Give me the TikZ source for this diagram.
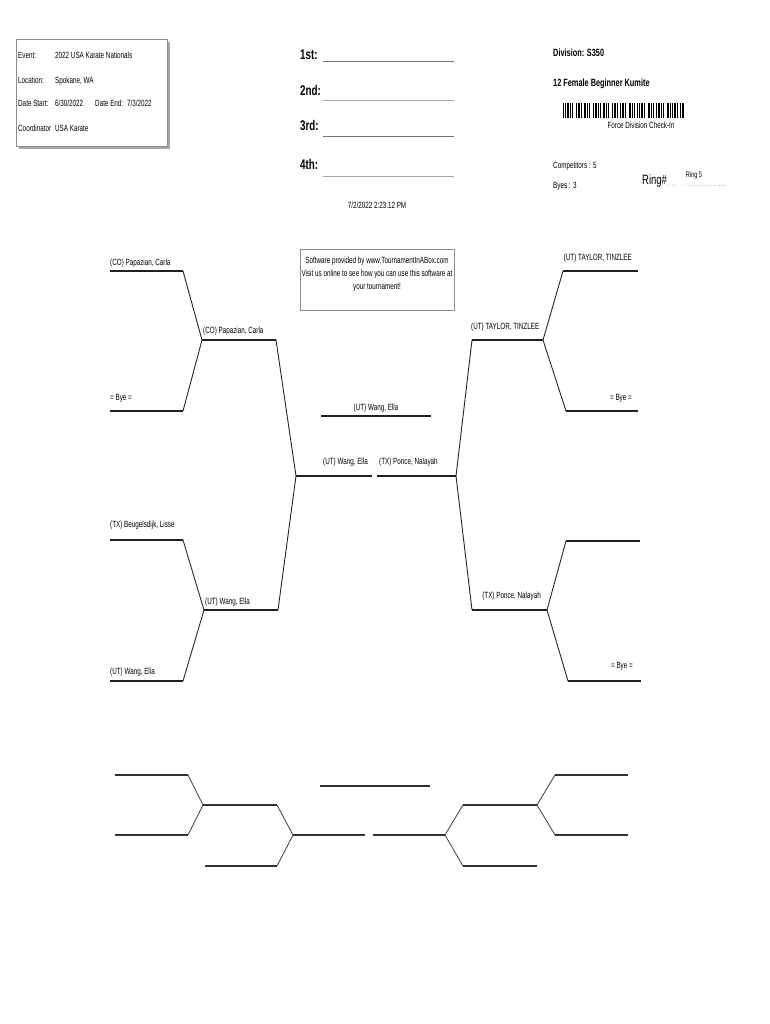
\documentclass[tikz,border=0pt]{standalone}
\usepackage{fontspec}
\setmainfont{Liberation Sans}[FakeStretch=0.7]
\begin{document}
\begin{tikzpicture}[x=1pt,y=-1pt,
  lbl/.style={font=\fontsize{9}{10}\selectfont, inner sep=0pt},
  info/.style={font=\fontsize{9}{10}\selectfont, inner sep=0pt, anchor=base west},
  place/.style={font=\bfseries\fontsize{14}{16}\selectfont, inner sep=0pt, anchor=base west},
  head/.style={font=\bfseries\fontsize{10.5}{12}\selectfont, inner sep=0pt, anchor=base west},
  hl/.style={line width=1.7pt, draw=black!88},
  dg/.style={line width=0.9pt, draw=black!85},
  bhl/.style={line width=1.3pt, draw=black!80},
  bdg/.style={line width=0.8pt, draw=black!75},
  pl/.style={line width=0.9pt, draw=black!55},
  bx/.style={draw=black!45, line width=0.5pt}]
\useasboundingbox (0,0) rectangle (770,1024);
\fill[white] (0,0) rectangle (770,1024);

% ---- info box
\fill[black!35] (19,146) rectangle (170,149);
\fill[black!35] (167,42) rectangle (170,149);
\node[bx, fill=white, minimum width=151pt, minimum height=107pt, anchor=north west, inner sep=0pt] (infobox) at (16,39) {};
\node[info] (ev) at (18,59) {Event:};
\node[info] (evv) at (55,59) {2022 USA Karate Nationals};
\node[info] (loc) at (18,84) {Location:};
\node[info] (locv) at (55,84) {Spokane, WA};
\node[info] (ds) at (18,107) {Date Start:};
\node[info] (dsv) at (55,107) {6/30/2022};
\node[info] (de) at (95,107) {Date End:};
\node[info] (dev) at (127,107) {7/3/2022};
\node[info] (co) at (18,132) {Coordinator};
\node[info] (cov) at (55,132) {USA Karate};

% ---- places
\node[place] (p1) at (300,60) {1st:};
\node[place] (p2) at (300,96) {2nd:};
\node[place] (p3) at (300,131) {3rd:};
\node[place] (p4) at (300,170) {4th:};
\coordinate (l1a) at (323,61); \coordinate (l1b) at (454,61);
\coordinate (l2a) at (323,100.5); \coordinate (l2b) at (454,100.5);
\coordinate (l3a) at (323,136); \coordinate (l3b) at (454,136);
\coordinate (l4a) at (323,176); \coordinate (l4b) at (454,176);
\draw[pl] (l1a) -- (l1b);
\draw[pl, draw=black!35] (l2a) -- (l2b);
\draw[pl] (l3a) -- (l3b);
\draw[pl, draw=black!35] (l4a) -- (l4b);
\node[lbl, anchor=base] (stamp) at (377,209) {7/2/2022 2:23:12 PM};

% ---- division
\node[head] (div) at (553,57) {Division: S350};
\node[head] (dname) at (553,87) {12 Female Beginner Kumite};
\foreach \x/\w in {563/1,565/1,567/2,570/1,572/1,575.5/1,577.5/2,580.5/1,584/2,587/1,589/1,592.5/1,594.5/2,597.5/1,599.5/1,603/2,606/1,608/1,611.5/1,613.5/2,616.5/1,620/1,622/2,625/1,628.5/2,631.5/1,633.5/1,637/1,639/1,641/2,644/1,647.5/2,650.5/1,652.5/1,656/1,658/2,661/1,663/1,666.5/2,669.5/1,671.5/1,673.5/2,676.5/1,680/1,682/2}
  \fill[black] (\x,103) rectangle ++(\w,15);
\node[lbl, anchor=base] (force) at (641,129) {Force Division Check-In};
\node[info] (comp) at (553,169) {Competitors : 5};
\node[info] (byes) at (553,189) {Byes : 3};
\node[inner sep=0pt, anchor=base west, font=\fontsize{13.5}{15}\selectfont] (ring) at (642,185) {Ring\#};
\coordinate (rl1) at (ring.base east); \coordinate (rl2) at (725,185.5);
\draw[black!50, line width=0.6pt, dotted] (rl1) -- (rl2);
\node[lbl, anchor=base, font=\fontsize{8}{9}\selectfont] (ring5) at (694,178) {Ring 5};

% ---- software box
\node[bx, minimum width=154pt, minimum height=61pt, anchor=north west, inner sep=0pt] (soft) at (300,249) {};
\node[lbl, anchor=base, align=center] (soft1) at (377,263) {Software provided by www.TournamentInABox.com};
\node[lbl, anchor=base, align=center] (soft2) at (377,276) {Visit us online to see how you can use this software at};
\node[lbl, anchor=base, align=center] (soft3) at (377,289) {your tournament!};

% ---- main bracket, left
\coordinate (a1s) at (110,271); \coordinate (a1e) at (183,271);
\coordinate (a2s) at (110,411); \coordinate (a2e) at (183,411);
\coordinate (m1s) at (202,340); \coordinate (m1e) at (276,340);
\coordinate (b1s) at (110,540); \coordinate (b1e) at (183,540);
\coordinate (b2s) at (110,681); \coordinate (b2e) at (183,681);
\coordinate (m2s) at (204,610); \coordinate (m2e) at (278,610);
\coordinate (cls) at (296,476); \coordinate (cle) at (372,476);
\coordinate (crs) at (377,476); \coordinate (cre) at (456,476);
\coordinate (ws) at (321,416); \coordinate (we) at (431,416);
% right
\coordinate (r1s) at (563,271); \coordinate (r1e) at (638,271);
\coordinate (r2s) at (566,411); \coordinate (r2e) at (638,411);
\coordinate (n1s) at (472,340); \coordinate (n1e) at (543,340);
\coordinate (r3s) at (566,541); \coordinate (r3e) at (640,541);
\coordinate (r4s) at (568,681); \coordinate (r4e) at (641,681);
\coordinate (n2s) at (472,610); \coordinate (n2e) at (547,610);

\foreach \s/\e in {a1s/a1e,a2s/a2e,m1s/m1e,b1s/b1e,b2s/b2e,m2s/m2e,cls/cle,crs/cre,ws/we,r1s/r1e,r2s/r2e,n1s/n1e,r3s/r3e,r4s/r4e,n2s/n2e}
  \draw[hl] (\s) -- (\e);
\foreach \s/\e in {a1e/m1s,a2e/m1s,m1e/cls,b1e/m2s,b2e/m2s,m2e/cls,r1s/n1e,r2s/n1e,n1s/cre,r3s/n2e,r4s/n2e,n2s/cre}
  \draw[dg] (\s) -- (\e);

\node[lbl, anchor=base west] (t1) at (110,265) {(CO) Papazian, Carla};
\node[lbl, anchor=base west] (t2) at (110,400) {= Bye =};
\node[lbl, anchor=base west] (t3) at (203,333) {(CO) Papazian, Carla};
\node[lbl, anchor=base west] (t4) at (110,527) {(TX) Beugelsdijk, Lisse};
\node[lbl, anchor=base west] (t5) at (110,674) {(UT) Wang, Ella};
\node[lbl, anchor=base west] (t6) at (205,604) {(UT) Wang, Ella};
\node[lbl, anchor=base east] (t7) at (368,464) {(UT) Wang, Ella};
\node[lbl, anchor=base west] (t8) at (379,464) {(TX) Ponce, Nalayah};
\node[lbl, anchor=base] (t9) at (376,410) {(UT) Wang, Ella};
\node[lbl, anchor=base east] (t10) at (632,260) {(UT) TAYLOR, TINZLEE};
\node[lbl, anchor=base east] (t11) at (632,400) {= Bye =};
\node[lbl, anchor=base west] (t12) at (471,329) {(UT) TAYLOR, TINZLEE};
\node[lbl, anchor=base east] (t13) at (541,598) {(TX) Ponce, Nalayah};
\node[lbl, anchor=base east] (t14) at (633,668) {= Bye =};

% ---- bottom bracket
\coordinate (p1s) at (115,775); \coordinate (p1e) at (188,775);
\coordinate (p2s) at (115,835); \coordinate (p2e) at (188,835);
\coordinate (q1s) at (203,805); \coordinate (q1e) at (277,805);
\coordinate (p3s) at (205,866); \coordinate (p3e) at (277,866);
\coordinate (q2s) at (293,835); \coordinate (q2e) at (365,835);
\coordinate (s2s) at (373,835); \coordinate (s2e) at (445,835);
\coordinate (t1s) at (463,805); \coordinate (t1e) at (537,805);
\coordinate (t3s) at (463,866); \coordinate (t3e) at (537,866);
\coordinate (u1s) at (555,775); \coordinate (u1e) at (628,775);
\coordinate (u2s) at (555,835); \coordinate (u2e) at (628,835);
\coordinate (bws) at (320,786); \coordinate (bwe) at (430,786);
\foreach \s/\e in {p1s/p1e,p2s/p2e,q1s/q1e,p3s/p3e,q2s/q2e,s2s/s2e,t1s/t1e,t3s/t3e,u1s/u1e,u2s/u2e,bws/bwe}
  \draw[bhl] (\s) -- (\e);
\foreach \s/\e in {p1e/q1s,p2e/q1s,q1e/q2s,p3e/q2s,s2e/t1s,s2e/t3s,t1e/u1s,t1e/u2s}
  \draw[bdg] (\s) -- (\e);
\end{tikzpicture}
\end{document}
